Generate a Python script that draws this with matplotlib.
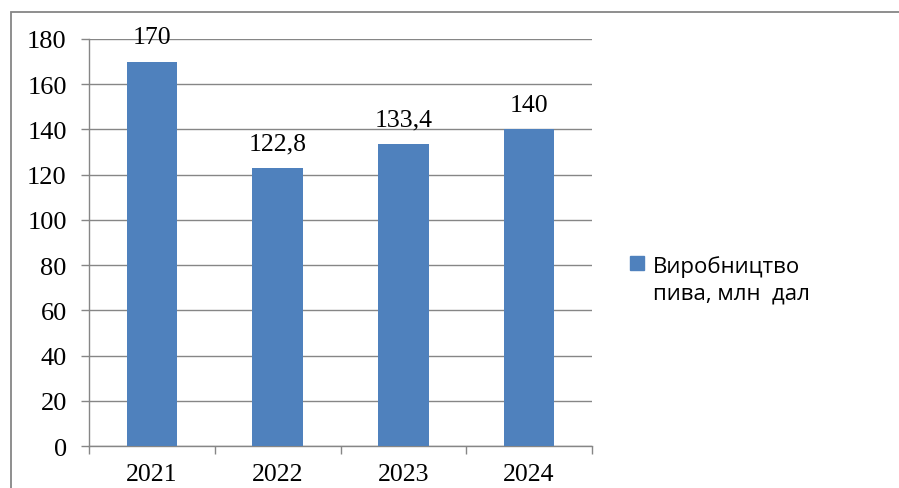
import matplotlib.pyplot as plt
from matplotlib.patches import Rectangle

years = ['2021', '2022', '2023', '2024']
values = [170, 122.8, 133.4, 140]
value_labels = ['170', '122,8', '133,4', '140']
legend_label = 'Виробництво\nпива, млн  дал'

bar_color = '#4F81BD'
line_color = '#868686'

fig = plt.figure(figsize=(8.99, 4.89), dpi=100)
ax = fig.add_axes([89 / 899, 1 - 447 / 489, (592 - 89) / 899, (447 - 40) / 489])

x = range(len(years))
ax.bar(x, values, width=0.4, color=bar_color, zorder=3)

for xi, v, lab in zip(x, values, value_labels):
    ax.annotate(lab, (xi, v), xytext=(0, 10), textcoords='offset points',
                ha='center', va='bottom', fontsize=18.5, family='Liberation Serif')

ax.set_xlim(-0.5, len(years) - 0.5)
ax.set_ylim(0, 180)
ax.set_yticks(range(0, 181, 20))
ax.set_xticks([i - 0.5 for i in range(len(years) + 1)])
ax.set_xticklabels([])
ax.set_xticks(list(x), minor=True)
ax.set_xticklabels(years, minor=True)

ax.grid(axis='y', color=line_color, linewidth=1, zorder=0)
for s in ['top', 'right']:
    ax.spines[s].set_visible(False)
for s in ['left', 'bottom']:
    ax.spines[s].set_color(line_color)
    ax.spines[s].set_linewidth(1)

ax.tick_params(axis='y', length=6, color=line_color, width=1, pad=10,
               labelsize=19, labelfontfamily='Liberation Serif')
ax.tick_params(axis='x', which='major', length=6, color=line_color, width=1)
ax.tick_params(axis='x', which='minor', length=0, pad=12,
               labelsize=18.5, labelfontfamily='Liberation Serif')

# legend drawn by hand so the marker sits on the first line
fig.patches.append(Rectangle((630 / 899, 1 - 271 / 489), 14 / 899, 14 / 489,
                             transform=fig.transFigure, color=bar_color))
fig.text(653 / 899, 1 - 280 / 489, legend_label, fontsize=16, family='Open Sans',
         ha='left', va='center', linespacing=1.35)

# outer chart border (right and bottom edges run off the picture)
fig.patches.append(Rectangle((11 / 899, -0.1), 1.2, 1 - 13 / 489 + 0.1,
                             transform=fig.transFigure, fill=False,
                             edgecolor=line_color, linewidth=1.3))

fig.savefig('out.png', dpi=100)
